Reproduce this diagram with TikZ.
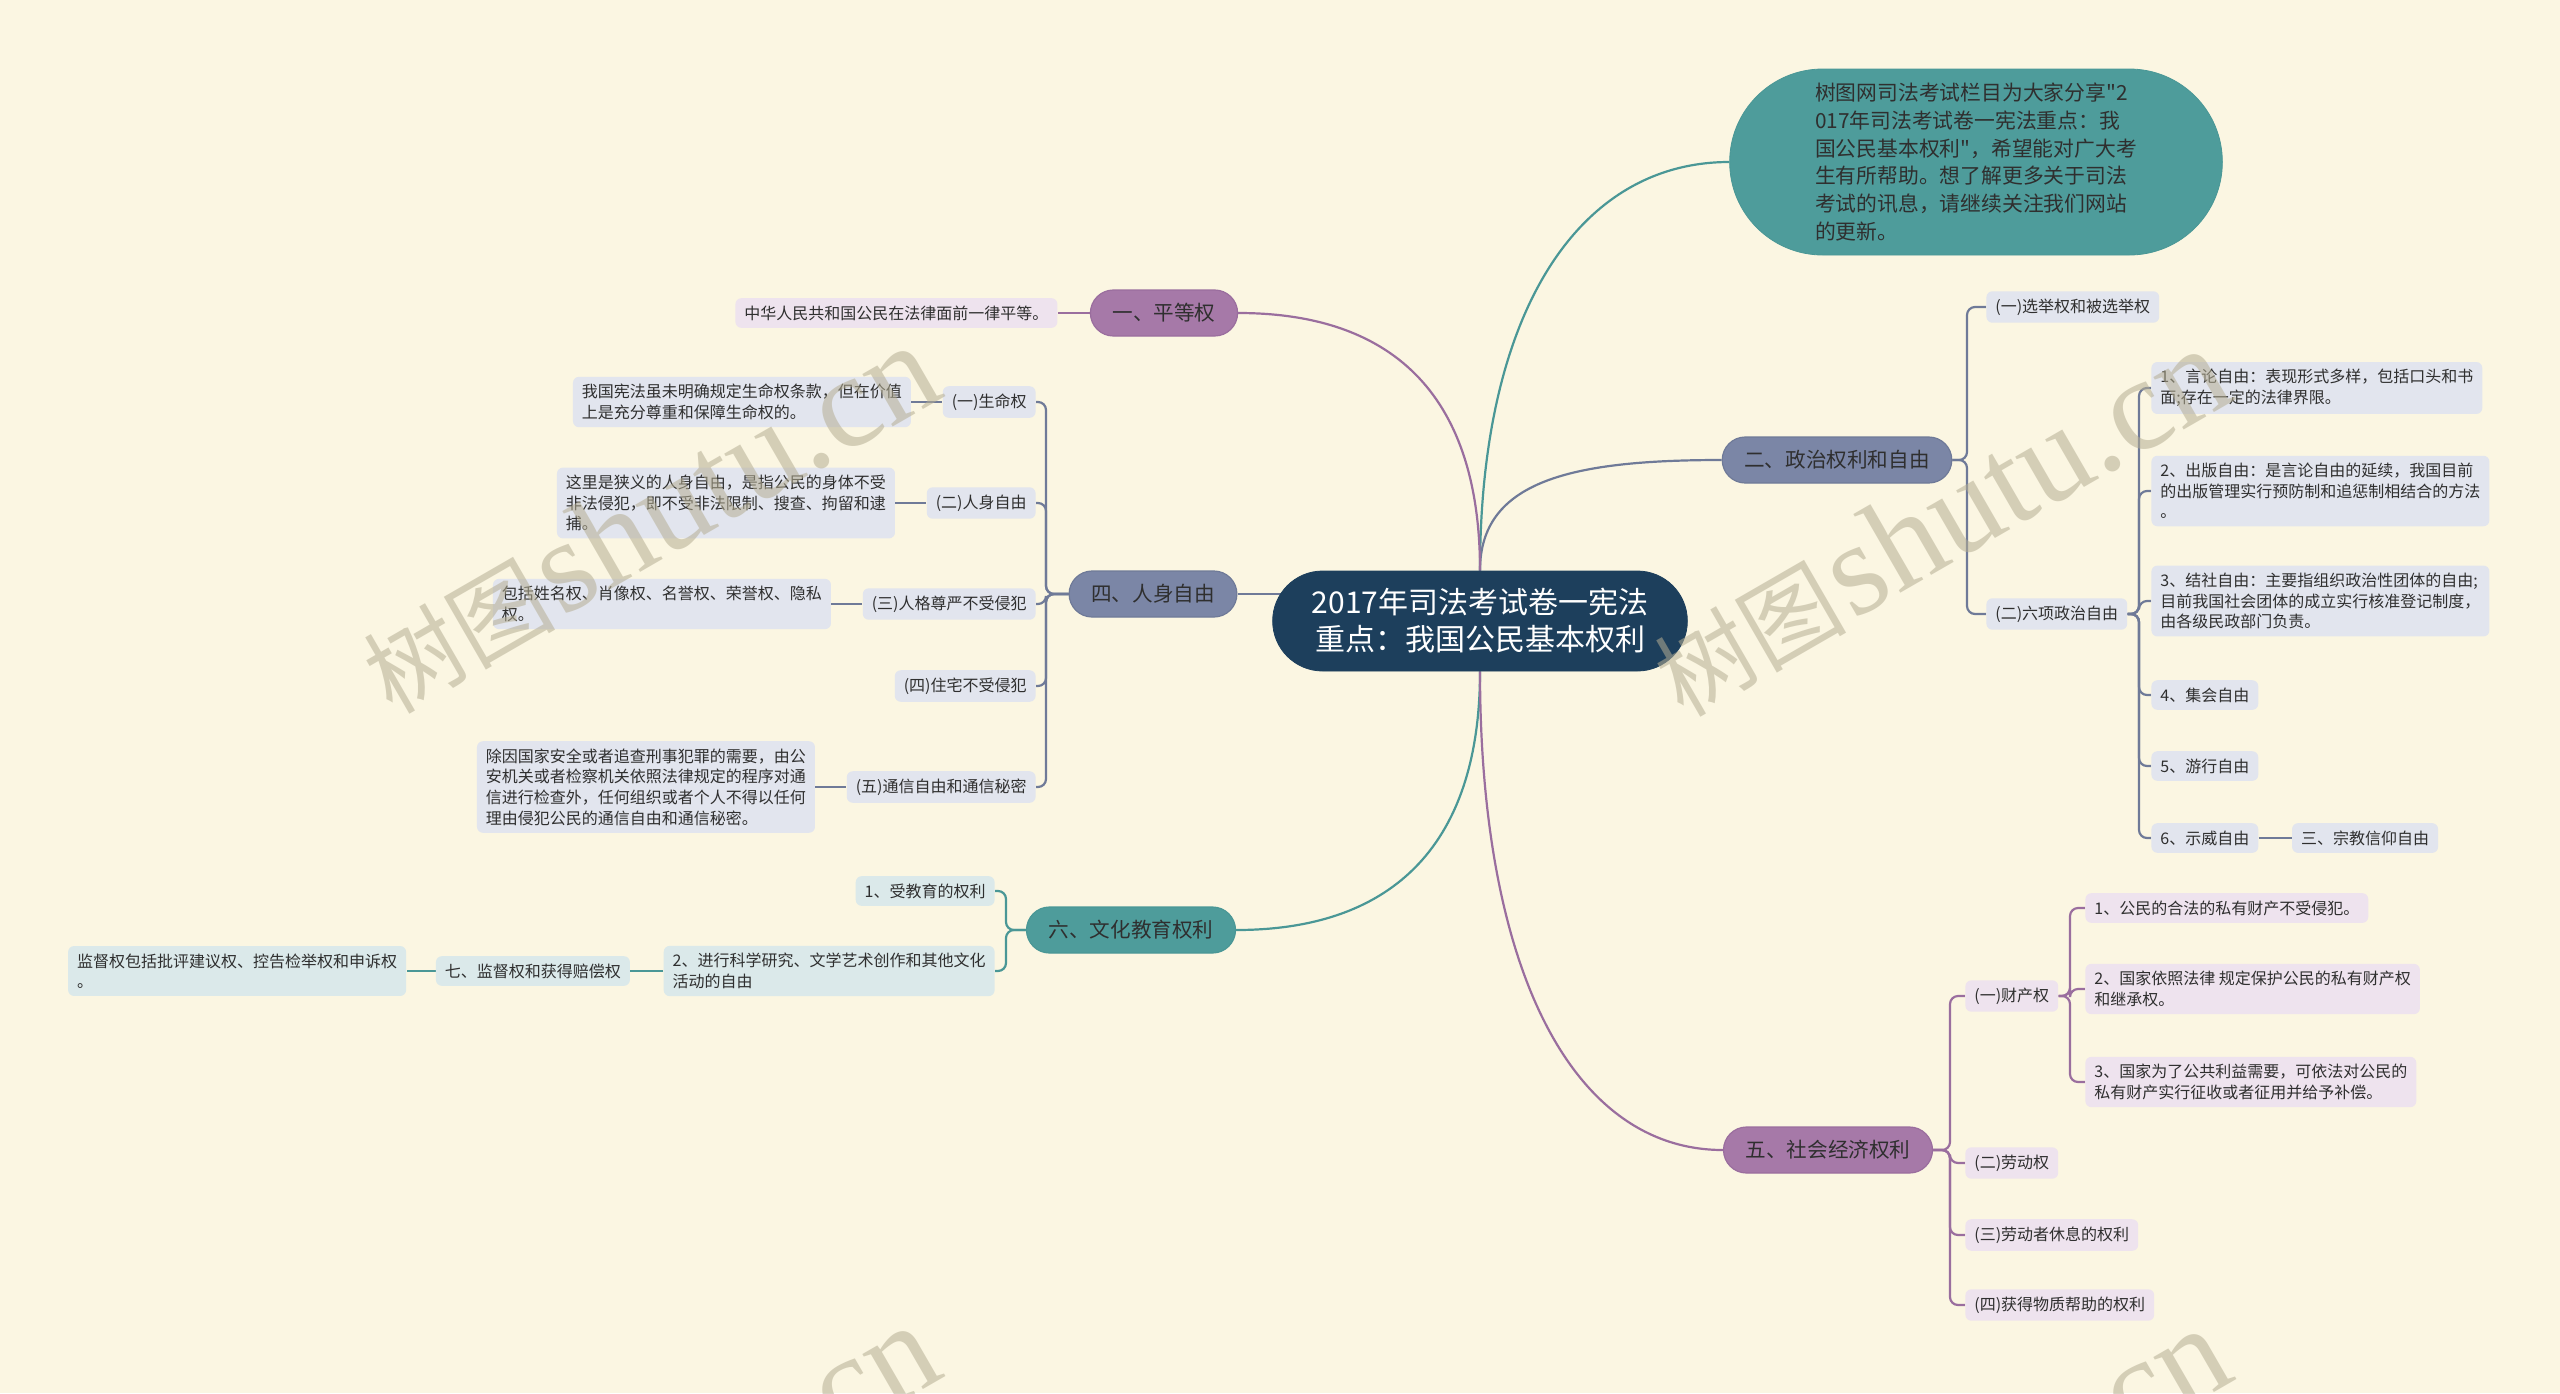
\documentclass[tikz,border=0pt]{standalone}
\usepackage{fontspec}
\setmainfont{Noto Sans CJK SC}
\newfontfamily\cjkplain{Noto Sans CJK SC}
\newfontfamily\wmfont{Liberation Serif}
\usetikzlibrary{positioning,shapes.misc}

\definecolor{bgc}{HTML}{FBF6E2}
\definecolor{rootc}{HTML}{1D3F5C}
\definecolor{tealc}{HTML}{4E9C9B}
\definecolor{purc}{HTML}{A679A8}
\definecolor{slatec}{HTML}{7B86A6}
\definecolor{leafPc}{HTML}{EEE3EE}
\definecolor{leafSc}{HTML}{E2E5EE}
\definecolor{leafTc}{HTML}{DBE9EA}
\definecolor{lineP}{HTML}{9A6E9E}
\definecolor{lineS}{HTML}{6F7A98}
\definecolor{lineT}{HTML}{4A9796}
\definecolor{textc}{HTML}{2F2F2F}
\definecolor{wmc}{HTML}{B5AE93}

\pgfdeclarelayer{back}
\pgfdeclarelayer{edges}
\pgfsetlayers{back,edges,main}

\begin{document}
\begin{tikzpicture}[x=0.5pt, y=-0.5pt,
    root/.style={rounded rectangle, fill=rootc, draw=rootc, text=white, align=center,
      minimum height=50pt, minimum width=214pt, font=\fontsize{15}{18.5}\selectfont},
    desc/.style={rounded rectangle, fill=tealc, draw=lineT, text=textc, align=left,
      minimum height=93pt, minimum width=253pt, font=\cjkplain\fontsize{10.4}{13.9}\selectfont},
    topic/.style={rounded rectangle, minimum height=23pt, inner xsep=10pt, text=textc,
      line width=0.6pt, font=\fontsize{10.3}{12}\selectfont},
    topicP/.style={topic, fill=purc, draw=lineP},
    topicS/.style={topic, fill=slatec, draw=lineS},
    topicT/.style={topic, fill=tealc, draw=lineT},
    leaf/.style={rectangle, rounded corners=3pt, inner xsep=4.5pt, inner ysep=3.7pt,
      align=left, text=textc, font=\fontsize{8}{10.3}\selectfont},
    leafP/.style={leaf, fill=leafPc},
    leafS/.style={leaf, fill=leafSc},
    leafT/.style={leaf, fill=leafTc},
    link/.style={line width=1.1pt},
    brace/.style={line width=1.1pt, rounded corners=4pt},
    wmark/.style={rotate=30, text=wmc, opacity=0.55}]

  \begin{pgfonlayer}{back}
    \fill[bgc] (0,0) rectangle (2560,1393);
  \end{pgfonlayer}
  \useasboundingbox (0,0) rectangle (2560,1393);

  % --- centre and first level ---
  \node[root] (root) at (1480,621) {2017年司法考试卷一宪法\\重点：我国公民基本权利};
  \node[desc] (desc) at (1976,162)
    {树图网司法考试栏目为大家分享"2\\017年司法考试卷一宪法重点：我\\国公民基本权利"，希望能对广大考\\生有所帮助。想了解更多关于司法\\考试的讯息，请继续关注我们网站\\的更新。};
  \node[topicP] (t1) at (1164,313) {一、平等权};
  \node[topicS] (t4) at (1153,594) {四、人身自由};
  \node[topicT] (t6) at (1131,930) {六、文化教育权利};
  \node[topicS] (t2) at (1837,460) {二、政治权利和自由};
  \node[topicP] (t5) at (1828,1150) {五、社会经济权利};

  % --- 一 ---
  \node[leafP, left=16pt of t1] (l1) {中华人民共和国公民在法律面前一律平等。};

  % --- 四 ---
  \node[leafS, anchor=east] (s41) at (1036,402) {(一)生命权};
  \node[leafS, anchor=east] (s42) at (1036,503) {(二)人身自由};
  \node[leafS, anchor=east] (s43) at (1036,604) {(三)人格尊严不受侵犯};
  \node[leafS, anchor=east] (s44) at (1036,686) {(四)住宅不受侵犯};
  \node[leafS, anchor=east] (s45) at (1036,787) {(五)通信自由和通信秘密};
  \node[leafS, left=15.5pt of s41] (d41) {我国宪法虽未明确规定生命权条款，但在价值\\上是充分尊重和保障生命权的。};
  \node[leafS, left=15.5pt of s42] (d42) {这里是狭义的人身自由，是指公民的身体不受\\非法侵犯，即不受非法限制、搜查、拘留和逮\\捕。};
  \node[leafS, left=15.5pt of s43] (d43) {包括姓名权、肖像权、名誉权、荣誉权、隐私\\权。};
  \node[leafS, left=15.5pt of s45] (d45) {除因国家安全或者追查刑事犯罪的需要，由公\\安机关或者检察机关依照法律规定的程序对通\\信进行检查外，任何组织或者个人不得以任何\\理由侵犯公民的通信自由和通信秘密。};

  % --- 六 ---
  \node[leafT, anchor=east] (s61) at (995,891) {1、受教育的权利};
  \node[leafT, anchor=east] (s62) at (995,971) {2、进行科学研究、文学艺术创作和其他文化\\活动的自由};
  \node[leafT, left=16.5pt of s62] (s63) {七、监督权和获得赔偿权};
  \node[leafT, left=14.5pt of s63] (s64) {监督权包括批评建议权、控告检举权和申诉权\\。};

  % --- 二 ---
  \node[leafS, anchor=west] (s21) at (1986,307) {(一)选举权和被选举权};
  \node[leafS, anchor=west] (s22) at (1986,614) {(二)六项政治自由};
  \node[leafS, anchor=west] (f1) at (2151,388) {1、言论自由：表现形式多样，包括口头和书\\面;存在一定的法律界限。};
  \node[leafS, anchor=west] (f2) at (2151,491) {2、出版自由：是言论自由的延续，我国目前\\的出版管理实行预防制和追惩制相结合的方法\\。};
  \node[leafS, anchor=west] (f3) at (2151,601) {3、结社自由：主要指组织政治性团体的自由;\\目前我国社会团体的成立实行核准登记制度，\\由各级民政部门负责。};
  \node[leafS, anchor=west] (f4) at (2151,695) {4、集会自由};
  \node[leafS, anchor=west] (f5) at (2151,766) {5、游行自由};
  \node[leafS, anchor=west] (f6) at (2151,838) {6、示威自由};
  \node[leafS, right=16.5pt of f6] (f7) {三、宗教信仰自由};

  % --- 五 ---
  \node[leafP, anchor=west] (s51) at (1965,996) {(一)财产权};
  \node[leafP, anchor=west] (s52) at (1965,1163) {(二)劳动权};
  \node[leafP, anchor=west] (s53) at (1965,1235) {(三)劳动者休息的权利};
  \node[leafP, anchor=west] (s54) at (1965,1305) {(四)获得物质帮助的权利};
  \node[leafP, anchor=west] (p1) at (2085,908) {1、公民的合法的私有财产不受侵犯。};
  \node[leafP, anchor=west] (p2) at (2085,989) {2、国家依照法律 规定保护公民的私有财产权\\和继承权。};
  \node[leafP, anchor=west] (p3) at (2085,1082) {3、国家为了公共利益需要，可依法对公民的\\私有财产实行征收或者征用并给予补偿。};

  % --- connectors ---
  \begin{pgfonlayer}{edges}
    \draw[link, lineT] (root.north) .. controls +(0,-260) and +(-150,0) .. (desc.west);
    \draw[link, lineS] (root.north) .. controls +(0,-90) and +(-150,0) .. (t2.west);
    \draw[link, lineP] (root.north) .. controls +(0,-170) and +(160,0) .. (t1.east);
    \draw[link, lineS] (t4.east) -- (root.center |- t4.east);
    \draw[link, lineT] (root.south) .. controls +(0,170) and +(160,0) .. (t6.east);
    \draw[link, lineP] (root.south) .. controls +(0,300) and +(-150,0) .. (t5.west);

    \draw[link, lineP] (l1) -- (t1);
    \foreach \n in {s41,s42,s43,s44,s45}
      \draw[brace, lineS] (t4.west) -- ([xshift=5pt]s41.east |- t4.west) |- (\n.east);
    \draw[link, lineS] (d41) -- (s41);
    \draw[link, lineS] (d42) -- (s42);
    \draw[link, lineS] (d43) -- (s43);
    \draw[link, lineS] (d45) -- (s45);

    \foreach \n in {s61,s62}
      \draw[brace, lineT] (t6.west) -- ([xshift=5.5pt]s61.east |- t6.west) |- (\n.east);
    \draw[link, lineT] (s62) -- (s63);
    \draw[link, lineT] (s63) -- (s64);

    \foreach \n in {s21,s22}
      \draw[brace, lineS] (t2.east) -- ([xshift=-9.5pt]s21.west |- t2.east) |- (\n.west);
    \foreach \n in {f1,f2,f3,f4,f5,f6}
      \draw[brace, lineS] (s22.east) -- ([xshift=-6pt]f1.west |- s22.east) |- (\n.west);
    \draw[link, lineS] (f6) -- (f7);

    \foreach \n in {s51,s52,s53,s54}
      \draw[brace, lineP] (t5.east) -- ([xshift=-7.5pt]s51.west |- t5.east) |- (\n.west);
    \foreach \n in {p1,p2,p3}
      \draw[brace, lineP] (s51.east) -- ([xshift=-7.5pt]p1.west |- s51.east) |- (\n.west);
  \end{pgfonlayer}

  % --- watermark ---
  \begin{scope}
    \clip (0,0) rectangle (2560,1393);
    \foreach \wx/\wy in {649/519, 1940/522, 649/1499, 1940/1502}
      \node[wmark] at (\wx,\wy)
        {{\fontsize{48}{48}\selectfont 树图} {\wmfont\fontsize{66}{66}\selectfont shutu.cn}};
  \end{scope}
\end{tikzpicture}
\end{document}
